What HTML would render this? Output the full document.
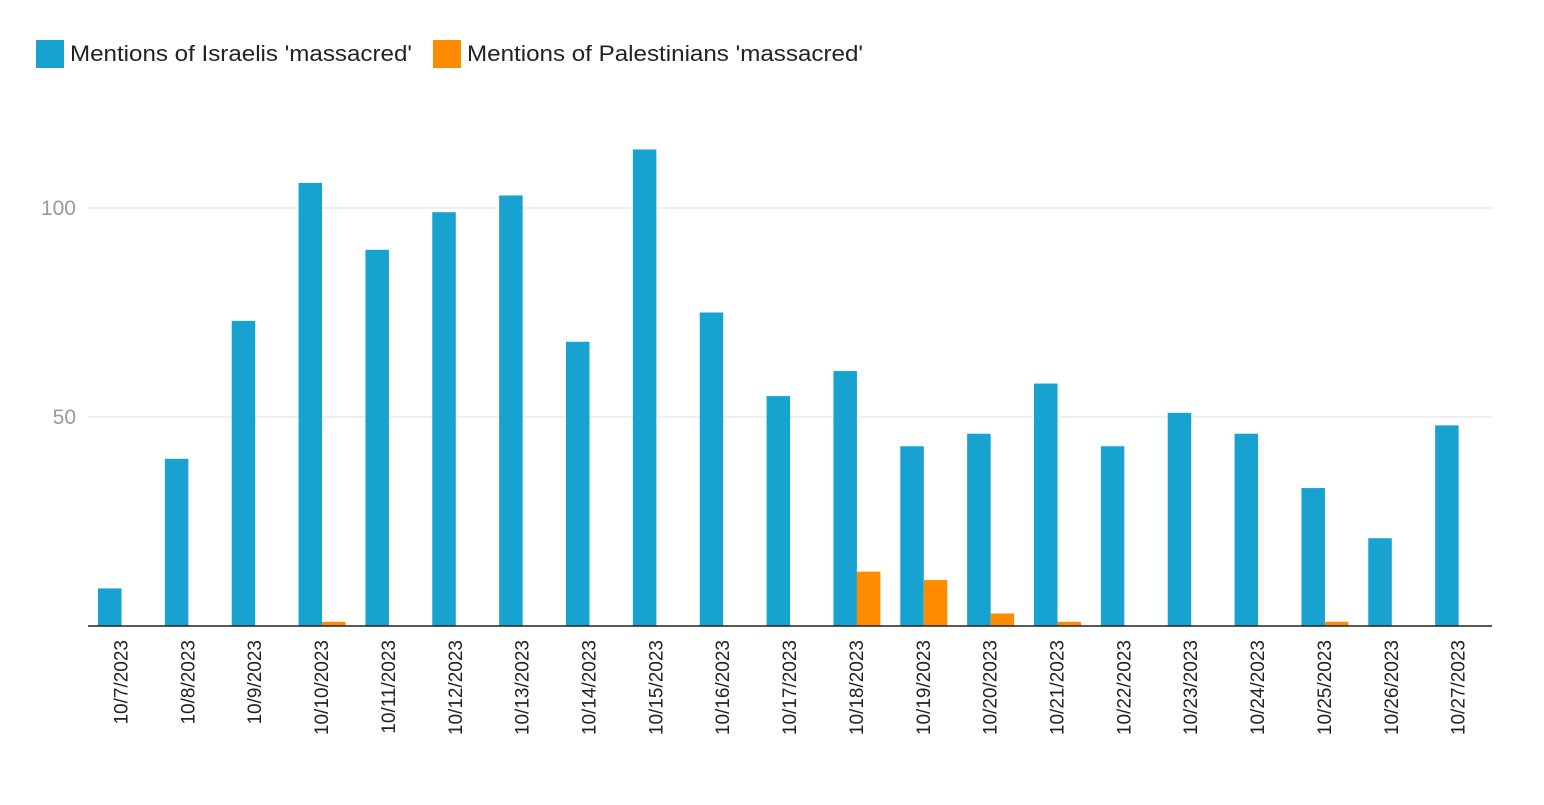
<!DOCTYPE html>
<html><head><meta charset="utf-8">
<style>
html,body{margin:0;padding:0;background:#fff;}
body{width:1544px;height:800px;overflow:hidden;font-family:"Liberation Sans",Arial,sans-serif;}
</style></head>
<body>
<svg id="chart" width="1544" height="800" xmlns="http://www.w3.org/2000/svg" font-family="Liberation Sans, Arial, sans-serif">
  <g>
    <g>
      <rect x="36" y="40" width="28" height="28" fill="#17a2cf"/>
      <text x="70" y="61" font-size="22" fill="#222" textLength="342" lengthAdjust="spacingAndGlyphs">Mentions of Israelis 'massacred'</text>
    </g>
    <g>
      <rect x="433" y="40" width="28" height="28" fill="#ff8c00"/>
      <text x="467" y="61" font-size="22" fill="#222" textLength="396" lengthAdjust="spacingAndGlyphs">Mentions of Palestinians 'massacred'</text>
    </g>
  </g>
  <g id="grid"></g>
  <g id="yticks"></g>
  <g id="bars"></g>
  <g id="xticks"></g>
</svg>
<script>
const categories = ["10/7/2023","10/8/2023","10/9/2023","10/10/2023","10/11/2023","10/12/2023","10/13/2023","10/14/2023","10/15/2023","10/16/2023","10/17/2023","10/18/2023","10/19/2023","10/20/2023","10/21/2023","10/22/2023","10/23/2023","10/24/2023","10/25/2023","10/26/2023","10/27/2023"];
const israelis = [9,40,73,106,90,99,103,68,114,75,55,61,43,46,58,43,51,46,33,21,48];
const palestinians = [0,0,0,1,0,0,0,0,0,0,0,13,11,3,1,0,0,0,1,0,0];
const yTicks = [50,100];

const NS = "http://www.w3.org/2000/svg";
const left = 88, right = 1492, baseY = 626, pxPerUnit = 4.18;
const groupW = (right - left) / categories.length;
const barW = 23.5, pad = 10;
const y = v => baseY - v * pxPerUnit;
const gx = i => left + i * groupW;

function mk(tag, attrs, parent){
  const el = document.createElementNS(NS, tag);
  for (const k in attrs) el.setAttribute(k, attrs[k]);
  parent.appendChild(el);
  return el;
}
const grid = document.getElementById('grid');
const yt = document.getElementById('yticks');
yTicks.forEach(t => {
  const l = mk('line', {x1:left, x2:right, y1:y(t), y2:y(t), stroke:'#e0e0e0', 'stroke-width':1}, grid);
  
  
  const tx = mk('text', {x:76, y:y(t)+7, 'text-anchor':'end', 'font-size':21, fill:'#999'}, yt);
  tx.textContent = t;
  
  
});
const bars = document.getElementById('bars');
const xt = document.getElementById('xticks');
categories.forEach((c, i) => {
  const b = mk('rect', {x:gx(i)+pad, y:y(israelis[i]), width:barW, height:israelis[i]*pxPerUnit, fill:'#17a2cf'}, bars);
  
  
  if (palestinians[i] > 0) {
    const o = mk('rect', {x:gx(i)+pad+barW, y:y(palestinians[i]), width:barW, height:palestinians[i]*pxPerUnit, fill:'#ff8c00'}, bars);
    
    
  }
  const cx = gx(i) + pad + barW + 6;
  const t = mk('text', {x:0, y:0, 'text-anchor':'end', 'font-size':19, fill:'#222', transform:`translate(${cx},640) rotate(-90)`}, xt);
  t.textContent = c;
  
  
});
const axis = mk('line', {x1:left, x2:right, y1:baseY, y2:baseY, stroke:'#222', 'stroke-width':1.5}, document.getElementById('chart'));


</script>
</body></html>
